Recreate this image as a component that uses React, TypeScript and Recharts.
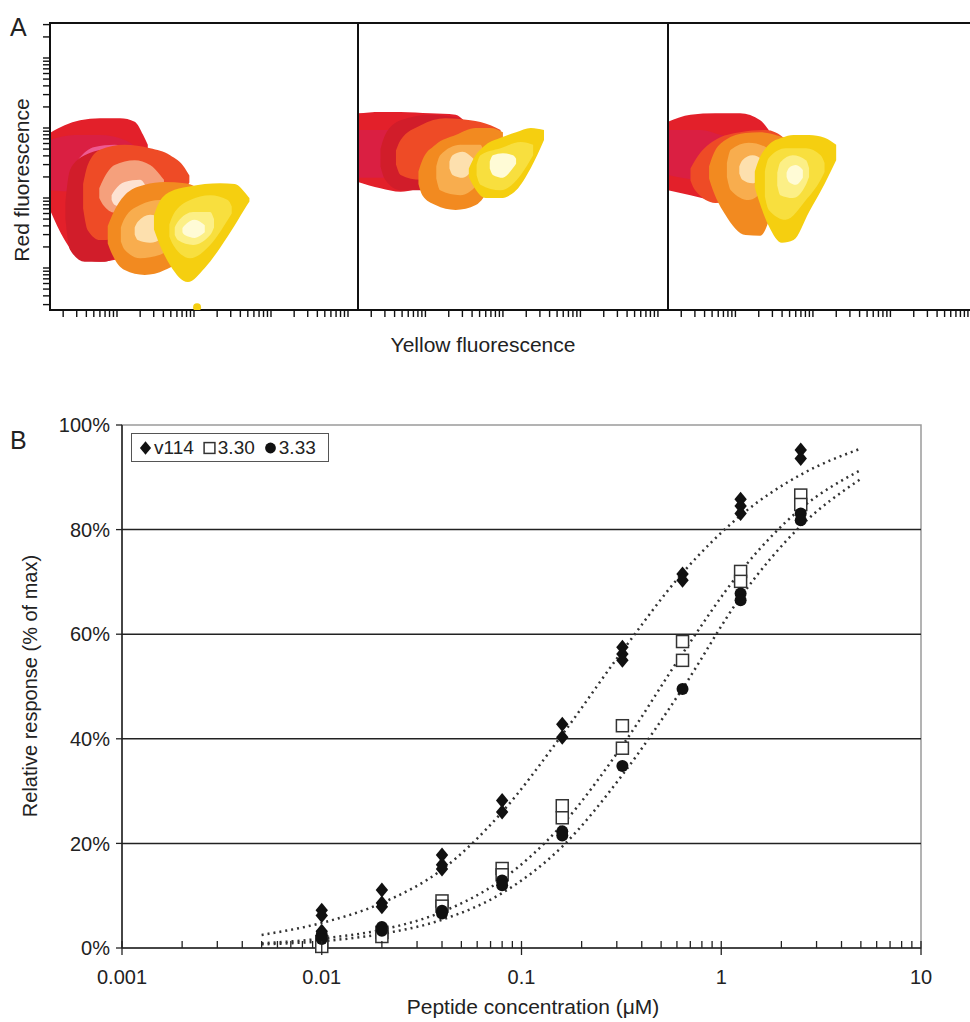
import React from "react";
import {
  ComposedChart,
  Area,
  Line,
  Scatter,
  XAxis,
  YAxis,
  ReferenceArea,
  ReferenceLine,
  Legend,
} from "recharts";

const FONT = '"Liberation Sans", Arial, Helvetica, sans-serif';

// ---------- Panel A: flow density contours (log decades, [x, low, high]) ----------
// panel 1 (control)
const p1Red0 = [[0.13, 0.83, 1.93], [0.32, 0.4, 2.04], [0.52, 0.14, 2.11], [0.78, 0.09, 2.14], [1.04, 0.14, 2.14], [1.23, 0.97, 2.09], [1.34, 1.54, 1.9], [1.4, 1.7, 1.76]];
const p1Red1 = [[0.13, 1.11, 1.83], [0.45, 1.09, 1.9], [0.78, 1.11, 1.9], [1.1, 1.33, 1.83], [1.27, 1.54, 1.71], [1.32, 1.6, 1.66]];
const p1Red2 = [[0.44, 1.38, 1.46], [0.49, 1.29, 1.54], [0.71, 1.37, 1.73], [0.97, 1.54, 1.76], [1.13, 1.66, 1.71]];
const p1Org0 = [[0.33, 0.7, 0.95], [0.39, 0.26, 1.4], [0.58, 0.09, 1.61], [0.84, 0.09, 1.69], [1.1, 0.26, 1.61], [1.36, 0.54, 1.54]];
const p1Org1 = [[0.56, 0.85, 1.2], [0.62, 0.54, 1.47], [0.78, 0.4, 1.69], [1.1, 0.44, 1.76], [1.43, 0.61, 1.71], [1.69, 0.83, 1.61], [1.88, 1.11, 1.43], [1.94, 1.22, 1.32]];
const p1Org2 = [[0.77, 1.0, 1.14], [0.82, 0.9, 1.26], [0.97, 0.79, 1.47], [1.23, 0.83, 1.54], [1.43, 0.97, 1.47], [1.56, 1.11, 1.33], [1.61, 1.18, 1.26]];
const p1Org3 = [[0.93, 0.97, 1.04], [0.97, 0.9, 1.11], [1.1, 0.87, 1.23], [1.3, 0.97, 1.26], [1.39, 1.04, 1.14]];
const p1Ora0 = [[0.88, 0.35, 0.6], [0.94, 0.19, 0.76], [1.1, -0.03, 1.04], [1.36, -0.1, 1.19], [1.62, -0.03, 1.23], [1.88, 0.19, 1.21], [2.08, 0.69, 1.11], [2.14, 0.85, 0.98]];
const p1Ora1 = [[1.05, 0.38, 0.58], [1.1, 0.26, 0.71], [1.3, 0.14, 0.9], [1.56, 0.19, 0.97], [1.75, 0.4, 0.9], [1.8, 0.56, 0.74]];
const p1Ora2 = [[1.23, 0.48, 0.58], [1.27, 0.4, 0.66], [1.43, 0.36, 0.76], [1.58, 0.43, 0.71], [1.62, 0.52, 0.62]];
const p1Yel0 = [[1.48, 0.55, 0.75], [1.53, 0.4, 0.9], [1.69, 0.04, 1.09], [1.92, -0.2, 1.16], [2.14, 0.0, 1.2], [2.34, 0.29, 1.21], [2.53, 0.61, 1.2], [2.69, 0.9, 1.04], [2.72, 0.95, 1.0]];
const p1Yel1 = [[1.68, 0.45, 0.62], [1.73, 0.33, 0.76], [1.95, 0.14, 0.97], [2.21, 0.33, 1.04], [2.44, 0.69, 0.97], [2.49, 0.78, 0.88]];
const p1Yel2 = [[1.75, 0.47, 0.58], [1.79, 0.4, 0.66], [1.99, 0.33, 0.8], [2.21, 0.47, 0.8], [2.26, 0.58, 0.7]];
const p1Yel3 = [[1.85, 0.51, 0.57], [1.88, 0.47, 0.61], [2.01, 0.43, 0.69], [2.14, 0.51, 0.61]];
const p1Stray = [{ x: 2.04, y: -0.56 }];

// panel 2
const p2Red0 = [[0.13, 1.23, 2.21], [0.42, 1.14, 2.23], [0.68, 1.09, 2.23], [1.06, 1.19, 2.21], [1.39, 1.33, 2.19], [1.5, 1.83, 2.1]];
const p2Red1 = [[0.13, 1.29, 1.97], [0.55, 1.29, 1.97], [0.94, 1.4, 1.9], [1.2, 1.6, 1.85], [1.25, 1.68, 1.78]];
const p2Org0 = [[0.42, 1.45, 1.7], [0.48, 1.26, 1.9], [0.68, 1.11, 2.11], [1.06, 1.11, 2.19], [1.4, 1.3, 2.15], [1.6, 1.6, 2.0], [1.66, 1.75, 1.88]];
const p2Org1 = [[0.62, 1.48, 1.68], [0.68, 1.33, 1.83], [0.94, 1.26, 2.04], [1.26, 1.29, 2.14], [1.58, 1.47, 2.11], [1.84, 1.69, 2.04], [1.97, 1.83, 1.97]];
const p2Ora0 = [[0.91, 1.2, 1.38], [0.96, 1.04, 1.54], [1.13, 0.9, 1.76], [1.39, 0.83, 1.9], [1.65, 0.9, 2.0], [1.84, 1.19, 2.0], [2.0, 1.69, 1.94]];
const p2Ora1 = [[1.14, 1.28, 1.45], [1.19, 1.11, 1.61], [1.45, 1.04, 1.76], [1.71, 1.26, 1.76], [1.76, 1.45, 1.62]];
const p2Ora2 = [[1.31, 1.42, 1.52], [1.35, 1.33, 1.61], [1.48, 1.29, 1.66], [1.61, 1.4, 1.57], [1.65, 1.45, 1.52]];
const p2Yel0 = [[1.56, 1.3, 1.42], [1.61, 1.19, 1.54], [1.78, 1.0, 1.76], [1.97, 1.0, 1.86], [2.17, 1.11, 1.94], [2.36, 1.43, 2.0], [2.53, 1.83, 1.97]];
const p2Yel1 = [[1.66, 1.33, 1.47], [1.71, 1.19, 1.61], [1.97, 1.11, 1.71], [2.23, 1.33, 1.8], [2.39, 1.61, 1.76]];
const p2Yel2 = [[1.83, 1.42, 1.52], [1.87, 1.33, 1.61], [2.0, 1.29, 1.64], [2.13, 1.43, 1.61], [2.17, 1.49, 1.56]];

// panel 3
const p3Red0 = [[0.13, 1.11, 2.09], [0.42, 1.04, 2.19], [0.74, 0.97, 2.21], [1.06, 1.11, 2.21], [1.32, 1.47, 2.11], [1.43, 1.76, 1.97]];
const p3Red1 = [[0.13, 1.33, 1.97], [0.55, 1.26, 1.97], [0.81, 1.4, 1.9], [1.0, 1.6, 1.85], [1.05, 1.68, 1.78]];
const p3Org0 = [[0.42, 1.25, 1.42], [0.48, 1.11, 1.54], [0.74, 0.93, 1.83], [1.06, 0.97, 1.94], [1.39, 1.11, 1.97], [1.65, 1.54, 1.83], [1.7, 1.65, 1.75]];
const p3Org1 = [[0.76, 1.47, 1.58], [0.8, 1.35, 1.7], [1.0, 1.3, 1.8], [1.2, 1.45, 1.8], [1.25, 1.56, 1.7]];
const p3Ora0 = [[0.66, 1.28, 1.45], [0.71, 1.11, 1.61], [0.87, 0.76, 1.83], [1.13, 0.47, 1.93], [1.32, 0.46, 1.94], [1.52, 0.97, 1.9], [1.71, 1.61, 1.83]];
const p3Ora1 = [[0.89, 1.3, 1.5], [0.94, 1.11, 1.69], [1.17, 0.97, 1.79], [1.39, 1.19, 1.73], [1.44, 1.38, 1.56]];
const p3Ora2 = [[1.05, 1.35, 1.45], [1.09, 1.26, 1.54], [1.22, 1.21, 1.61], [1.35, 1.33, 1.54], [1.39, 1.4, 1.47]];
const p3Yel0 = [[1.25, 1.15, 1.38], [1.3, 0.97, 1.54], [1.43, 0.6, 1.76], [1.6, 0.36, 1.86], [1.75, 0.4, 1.9], [1.95, 0.8, 1.9], [2.15, 1.2, 1.86], [2.3, 1.54, 1.76]];
const p3Yel1 = [[1.38, 1.02, 1.38], [1.43, 0.83, 1.57], [1.65, 0.69, 1.71], [1.91, 0.97, 1.71], [2.1, 1.26, 1.61], [2.15, 1.37, 1.5]];
const p3Yel2 = [[1.54, 1.18, 1.36], [1.58, 1.04, 1.51], [1.74, 1.0, 1.61], [1.91, 1.19, 1.54], [1.95, 1.3, 1.43]];
const p3Yel3 = [[1.66, 1.3, 1.36], [1.69, 1.23, 1.43], [1.78, 1.19, 1.47], [1.87, 1.29, 1.4]];

const RED = ["#e3202a", "#da1f42", "#ee5a92"];
const ORG = ["#d11d2a", "#ee4b26", "#f5a07c", "#fde2d2"];
const ORA = ["#f28a20", "#f8ad4e", "#fde0ae"];
const YEL = ["#f5cf10", "#f8df3e", "#fcef86", "#fffbd6"];

const panel1: [number[][], string][] = [
  [p1Red0, RED[0]], [p1Red1, RED[1]], [p1Red2, RED[2]],
  [p1Org0, ORG[0]], [p1Org1, ORG[1]], [p1Org2, ORG[2]], [p1Org3, ORG[3]],
  [p1Ora0, ORA[0]], [p1Ora1, ORA[1]], [p1Ora2, ORA[2]],
  [p1Yel0, YEL[0]], [p1Yel1, YEL[1]], [p1Yel2, YEL[2]], [p1Yel3, YEL[3]],
];
const panel2: [number[][], string][] = [
  [p2Red0, RED[0]], [p2Red1, RED[1]],
  [p2Org0, ORG[0]], [p2Org1, ORG[1]],
  [p2Ora0, ORA[0]], [p2Ora1, ORA[1]], [p2Ora2, ORA[2]],
  [p2Yel0, YEL[0]], [p2Yel1, YEL[1]], [p2Yel2, YEL[3]],
];
const panel3: [number[][], string][] = [
  [p3Red0, RED[0]], [p3Red1, RED[1]],
  [p3Org0, ORG[1]], [p3Org1, "#f0603a"],
  [p3Ora0, ORA[0]], [p3Ora1, ORA[1]], [p3Ora2, ORA[2]],
  [p3Yel0, YEL[0]], [p3Yel1, YEL[1]], [p3Yel2, YEL[2]], [p3Yel3, YEL[3]],
];

const A_X = [0.13, 4.13];
const A_Y = [-0.6, 3.5];
const K = [1, 2, 3, 4, 5, 6, 7, 8, 9];
const logTicks = (lo: number, hi: number) =>
  [-1, 0, 1, 2, 3, 4]
    .flatMap((d) => K.map((k) => +(d + Math.log10(k)).toFixed(4)))
    .filter((v) => v >= lo && v <= hi);
const aTicksX = logTicks(A_X[0], A_X[1]);
const aTicksY = logTicks(A_Y[0], A_Y[1]);

// ---------- Panel B: dose response ----------
const conc = [0.01, 0.02, 0.04, 0.08, 0.16, 0.32, 0.64, 1.25, 2.5];
const v114Reps = [[7.2, 6.2, 3.2], [11.1, 8.6, 7.9], [17.8, 15.9, 15.1], [28.2, 26.0], [42.8, 40.3], [57.5, 56.2, 55.0], [71.5, 70.3], [85.8, 84.5, 83.1], [95.2, 93.6]];
const r330Reps = [[1.2, 0.3], [3.0, 2.2], [9.0, 8.0], [15.2, 14.0], [27.2, 24.9], [42.5, 38.2], [58.6, 55.0], [72.0, 70.1], [86.6, 84.8]];
const r333Reps = [[2.6, 1.7], [4.0, 3.3], [7.1, 6.6], [12.9, 12.0], [22.3, 21.5], [34.8], [49.5], [67.8, 66.5], [83.1, 81.8]];

const fitConc = [0.005, 0.01, 0.02, 0.04, 0.08, 0.16, 0.32, 0.64, 1.25, 2.5, 5];
const v114Fit = [2.5, 4.8, 8.6, 15.0, 26.0, 40.8, 56.8, 71.7, 82.7, 90.5, 95.5];
const r330Fit = [0.9, 1.8, 3.5, 6.9, 13.1, 23.6, 38.7, 56.3, 72.0, 84.0, 91.4];
const r333Fit = [0.7, 1.3, 2.7, 5.4, 10.5, 19.4, 33.1, 49.6, 67.1, 80.7, 89.7];

const yTicksB = [0, 20, 40, 60, 80, 100];
const gridB = [20, 40, 60, 80];
const xMajorB = [0.001, 0.01, 0.1, 1, 10];
const xTicksB = xMajorB
  .slice(0, -1)
  .flatMap((d) => K.map((k) => +(d * k).toPrecision(3)))
  .concat([10]);

const toPoints = (reps: number[][]) => conc.flatMap((c, i) => reps[i].map((v) => ({ x: c, y: v })));
const toCurve = (vals: number[]) => fitConc.map((c, i) => ({ x: c, y: vals[i] }));

const Diamond = ({ cx, cy, s = 1 }: any) => (
  <polygon
    points={`${cx},${cy - 7.5 * s} ${cx + 6.2 * s},${cy} ${cx},${cy + 7.5 * s} ${cx - 6.2 * s},${cy}`}
    fill="#111"
  />
);
const Square = ({ cx, cy, s = 1 }: any) => (
  <rect x={cx - 6 * s} y={cy - 6 * s} width={12 * s} height={12 * s} fill="#fff" stroke="#333" strokeWidth={1.5} />
);
const Dot = ({ cx, cy, s = 1 }: any) => <circle cx={cx} cy={cy} r={6 * s} fill="#111" />;

const series = [
  { name: "v114", pts: toPoints(v114Reps), Shape: Diamond },
  { name: "3.30", pts: toPoints(r330Reps), Shape: Square },
  { name: "3.33", pts: toPoints(r333Reps), Shape: Dot },
];
const curves = [v114Fit, r330Fit, r333Fit];

const LogTickB = ({ x, y, payload }: any) => {
  const v = payload.value;
  const major = xMajorB.some((m) => Math.abs(m - v) < m * 1e-6);
  return (
    <g>
      <line x1={x} x2={x} y1={y - 7} y2={major ? y + 7 : y} stroke="#222" strokeWidth={1.3} />
      {major && (
        <text x={x} y={y + 36} textAnchor="middle" fontSize={20} fill="#222" fontFamily={FONT}>
          {String(v)}
        </text>
      )}
    </g>
  );
};

const LegendBox = ({ payload }: any) => {
  const shown = new Set((payload || []).map((p: any) => p.value));
  const items = series.filter((s) => shown.size === 0 || shown.has(s.name));
  return (
    <div
      style={{
        display: "flex",
        alignItems: "center",
        border: "1.5px solid #555",
        background: "#fff",
        height: 27,
        padding: "0 4px 0 6px",
        fontSize: 19,
        fontFamily: FONT,
        color: "#222",
        whiteSpace: "nowrap",
      }}
    >
      {items.map(({ name, Shape }) => (
        <span key={name} style={{ display: "inline-flex", alignItems: "center", marginRight: 8 }}>
          <svg width={15} height={16} style={{ marginRight: 1 }}>
            <Shape cx={7.5} cy={8} s={0.9} />
          </svg>
          {name}
        </span>
      ))}
    </div>
  );
};

const FlowPanel = ({ layers, showY, stray }: { layers: [number[][], string][]; showY: boolean; stray?: { x: number; y: number }[] }) => (
  <ComposedChart width={showY ? 320 : 310} height={302} margin={{ top: 1, right: 0, bottom: 0, left: 0 }}>
    <XAxis
      type="number"
      dataKey="x"
      domain={A_X}
      allowDataOverflow
      ticks={aTicksX}
      interval={0}
      tickFormatter={() => ""}
      tickSize={7}
      height={14}
      axisLine={{ stroke: "#111", strokeWidth: 2 }}
      tickLine={{ stroke: "#111", strokeWidth: 1.4 }}
    />
    <YAxis
      type="number"
      domain={A_Y}
      allowDataOverflow
      ticks={aTicksY}
      interval={0}
      hide={!showY}
      width={12}
      tickFormatter={() => ""}
      tickSize={7}
      axisLine={{ stroke: "#111", strokeWidth: 2 }}
      tickLine={{ stroke: "#111", strokeWidth: 1.4 }}
    />
    {layers.map(([pts, fill], i) => (
      <Area
        key={i}
        data={pts.map(([x, lo, hi]) => ({ x, r: [lo, hi] }))}
        dataKey="r"
        type="monotone"
        fill={fill}
        fillOpacity={1}
        stroke="none"
        dot={false}
        activeDot={false}
        isAnimationActive={false}
      />
    ))}
    {stray && (
      <Scatter data={stray} dataKey="y" fill={YEL[0]} isAnimationActive={false} shape={(p: any) => <circle cx={p.cx} cy={p.cy} r={4} fill={YEL[0]} />} />
    )}
    <ReferenceArea x1={A_X[0]} x2={A_X[1]} y1={A_Y[0]} y2={A_Y[1]} fill="none" stroke="#111" strokeWidth={2} />
  </ComposedChart>
);

const abs = (left: number, top: number): React.CSSProperties => ({ position: "absolute", left, top });

export default function App() {
  return (
    <div style={{ position: "relative", width: 970, height: 1022, overflow: "hidden", background: "#fff", fontFamily: FONT, color: "#222" }}>
      <style>{`body{margin:0}`}</style>

      {/* Panel A */}
      <div style={{ ...abs(10, 15), fontSize: 25, lineHeight: "25px" }}>A</div>
      <div
        style={{
          ...abs(22 - 110, 180 - 12),
          width: 220,
          lineHeight: "24px",
          fontSize: 21,
          textAlign: "center",
          transform: "rotate(-90deg)",
        }}
      >
        Red fluorescence
      </div>
      <div style={abs(38, 22)}>
        <FlowPanel layers={panel1} showY stray={p1Stray} />
      </div>
      <div style={abs(358, 22)}>
        <FlowPanel layers={panel2} showY={false} />
      </div>
      <div style={abs(668, 22)}>
        <FlowPanel layers={panel3} showY={false} />
      </div>
      <div style={{ ...abs(383, 334), width: 200, textAlign: "center", fontSize: 21, lineHeight: "21px" }}>
        Yellow fluorescence
      </div>

      {/* Panel B */}
      <div style={{ ...abs(10, 428), fontSize: 25, lineHeight: "25px" }}>B</div>
      <div
        style={{
          ...abs(30 - 160, 686 - 12),
          width: 320,
          lineHeight: "24px",
          fontSize: 20,
          textAlign: "center",
          transform: "rotate(-90deg)",
        }}
      >
        Relative response (% of max)
      </div>
      <div style={abs(0, 400)}>
        <ComposedChart width={970} height={622} margin={{ top: 25, right: 49, bottom: 0, left: 0 }}>
          <ReferenceArea x1={0.001} x2={10} y1={0} y2={100} fill="none" stroke="#9a9a9a" strokeWidth={1.5} />
          {gridB.map((v) => (
            <ReferenceLine key={v} y={v} stroke="#222" strokeWidth={1.5} />
          ))}
          <XAxis
            type="number"
            dataKey="x"
            scale="log"
            domain={[0.001, 10]}
            allowDataOverflow
            ticks={xTicksB}
            interval={0}
            tick={<LogTickB />}
            tickLine={false}
            tickSize={0}
            tickMargin={0}
            height={74}
            axisLine={{ stroke: "#222", strokeWidth: 1.5 }}
          />
          <YAxis
            type="number"
            domain={[0, 100]}
            ticks={yTicksB}
            interval={0}
            width={122}
            tickFormatter={(v: number) => `${v}%`}
            tick={{ fontSize: 20, fill: "#222", fontFamily: FONT }}
            tickSize={6}
            tickMargin={6}
            axisLine={{ stroke: "#222", strokeWidth: 1.5 }}
            tickLine={{ stroke: "#222", strokeWidth: 1.3 }}
          />
          {curves.map((vals, i) => (
            <Line
              key={i}
              data={toCurve(vals)}
              dataKey="y"
              type="monotone"
              stroke="#333"
              strokeWidth={2.5}
              strokeDasharray="2 4"
              dot={false}
              activeDot={false}
              legendType="none"
              isAnimationActive={false}
            />
          ))}
          {series.map(({ name, pts, Shape }) => (
            <Scatter
              key={name}
              name={name}
              data={pts}
              dataKey="y"
              fill="#111"
              shape={(p: any) => <Shape cx={p.cx} cy={p.cy} />}
              isAnimationActive={false}
            />
          ))}
          <Legend
            layout="vertical"
            align="center"
            verticalAlign="middle"
            content={<LegendBox />}
            wrapperStyle={{ left: 131, top: 33, width: "auto", height: "auto" }}
          />
        </ComposedChart>
      </div>
      <div style={{ ...abs(533 - 200, 996), width: 400, textAlign: "center", fontSize: 21, lineHeight: "21px" }}>
        Peptide concentration (μM)
      </div>
    </div>
  );
}
